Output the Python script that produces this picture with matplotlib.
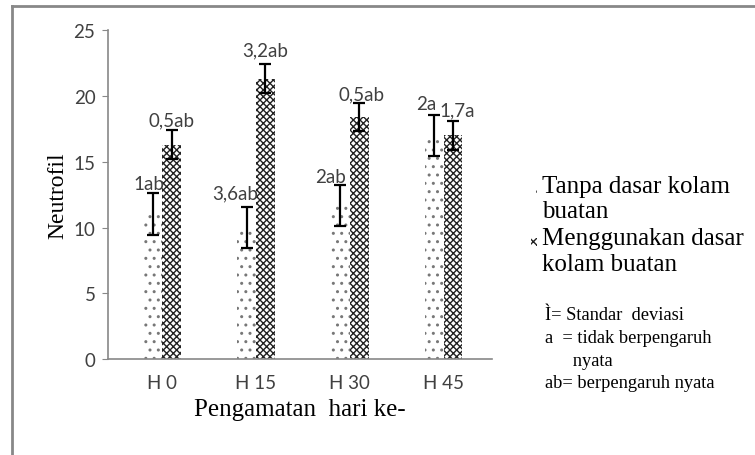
import matplotlib.pyplot as plt
import numpy as np
from matplotlib.patches import Rectangle

# Neutrofil per observation day, two pond treatments
days = ['H 0', 'H 15', 'H 30', 'H 45']
tanpa = [11.0, 10.0, 11.7, 17.0]
tanpa_sd = [1.6, 1.55, 1.55, 1.55]
pakai = [16.3, 21.3, 18.4, 17.0]
pakai_sd = [1.1, 1.1, 1.1, 1.1]
tanpa_lbl = ['1ab', '3,6ab', '2ab', '2a']
pakai_lbl = ['0,5ab', '3,2ab', '0,5ab', '1,7a']

serif = 'Liberation Serif'
sans = 'Lato'
grey_txt = '#404040'

fig = plt.figure(figsize=(7.55, 4.56), dpi=100)
ax = fig.add_axes([0.143, 0.2105, 0.509, 0.721])

x = np.arange(len(days))
w = 0.2
ax.bar(x - w/2, tanpa, w, color='white', edgecolor='#777777', hatch='..', linewidth=0)
ax.bar(x + w/2, pakai, w, color='white', edgecolor='#222222', hatch='xxxxx', linewidth=0)
ax.errorbar(x - w/2, tanpa, yerr=tanpa_sd, fmt='none', ecolor='black', elinewidth=1.6, capsize=4, capthick=1.6)
ax.errorbar(x + w/2, pakai, yerr=pakai_sd, fmt='none', ecolor='black', elinewidth=1.6, capsize=4, capthick=1.6)

# labels above the error bars
off1 = [(-3, 1), (-8, 4), (-7, 0), (-6, 2)]
off2 = [(0, 1), (0, 4), (2, 0), (3, 2)]
for i in range(len(days)):
    ax.annotate(tanpa_lbl[i], (x[i] - w/2, tanpa[i] + tanpa_sd[i]), xytext=off1[i],
                textcoords='offset points', ha='center', va='bottom', fontsize=13.5, family=sans, color=grey_txt)
    ax.annotate(pakai_lbl[i], (x[i] + w/2, pakai[i] + pakai_sd[i]), xytext=off2[i],
                textcoords='offset points', ha='center', va='bottom', fontsize=13.5, family=sans, color=grey_txt)

ax.set_xlim(-0.58, 3.52)
ax.set_ylim(0, 25)
ax.set_yticks([0, 5, 10, 15, 20, 25])
ax.set_xticks(x)
ax.set_xticklabels(days, family=sans, fontsize=13.5, color=grey_txt)
for t in ax.get_yticklabels():
    t.set_family(sans)
    t.set_fontsize(13.5)
    t.set_color(grey_txt)
ax.tick_params(axis='x', length=0, pad=11)
ax.tick_params(axis='y', length=4, color='#888888', pad=5)
for s in ['top', 'right']:
    ax.spines[s].set_visible(False)
for s in ['left', 'bottom']:
    ax.spines[s].set_color('#888888')
    ax.spines[s].set_linewidth(1.2)

ax.set_ylabel('Neutrofil', family=serif, fontsize=17, labelpad=4)
ax.set_xlabel('Pengamatan  hari ke-', family=serif, fontsize=18, labelpad=5)

# outer frame (only left and top visible)
fig.add_artist(plt.Line2D([0.016, 0.016], [0, 0.985], transform=fig.transFigure, color='#888888', lw=2))
fig.add_artist(plt.Line2D([0.016, 1.0], [0.985, 0.985], transform=fig.transFigure, color='#888888', lw=2))

# legend by hand
fig.add_artist(Rectangle((0.703, 0.575), 0.008, 0.018, transform=fig.transFigure,
                         facecolor='white', edgecolor='#555555', hatch='..', linewidth=0))
fig.add_artist(Rectangle((0.703, 0.458), 0.008, 0.018, transform=fig.transFigure,
                         facecolor='white', edgecolor='#222222', hatch='xxxx', linewidth=0))
fig.text(0.718, 0.614, 'Tanpa dasar kolam\nbuatan', family=serif, fontsize=18, va='top', linespacing=1.2)
fig.text(0.718, 0.499, 'Menggunakan dasar\nkolam buatan', family=serif, fontsize=18, va='top', linespacing=1.2)
fig.text(0.722, 0.327, '\u00cc= Standar  deviasi\na  = tidak berpengaruh\n      nyata\nab= berpengaruh nyata',
         family=serif, fontsize=13.3, va='top', linespacing=1.45)

fig.savefig('out.png', dpi=100)
